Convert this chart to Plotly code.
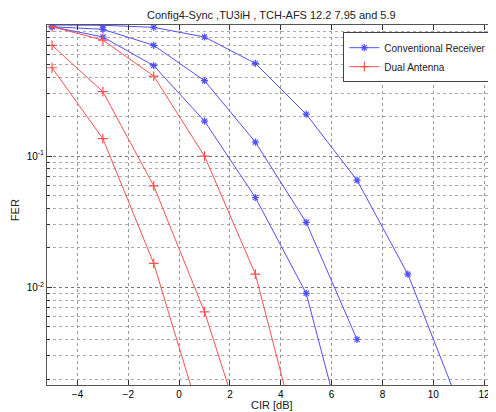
import plotly.graph_objects as go
import numpy as np

# Data (CIR in dB, FER)
cir = [-5, -3, -1, 1, 3, 5, 7, 9, 11]
conv_a = [1.0, 0.995, 0.96, 0.81, 0.51, 0.209, 0.0656, 0.0126, 0.0013]
conv_b = [0.97, 0.927, 0.70, 0.376, 0.128, 0.0313, 0.0040]
conv_c = [0.97, 0.81, 0.49, 0.185, 0.0484, 0.0090, 0.0003]
dual_a = [0.97, 0.768, 0.408, 0.1, 0.0126, 0.0004]
dual_b = [0.70, 0.31, 0.0593, 0.0065, 0.0004]
dual_c = [0.472, 0.136, 0.0152, 0.0008]

x_ticks = [-4, -2, 0, 2, 4, 6, 8, 10, 12]
y_ticks = [0.01, 0.1]
y_ticktext = ["10<sup>-2</sup>", "10<sup>-1</sup>"]

blue = "rgb(80,80,255)"
red = "rgb(255,80,80)"

fig = go.Figure()
for i, ys in enumerate([conv_a, conv_b, conv_c]):
    fig.add_trace(go.Scatter(
        x=cir[:len(ys)], y=ys, mode="lines+markers", name="Conventional Receiver",
        line=dict(color=blue, width=1),
        marker=dict(symbol="asterisk-open", size=6, color=blue, line=dict(color=blue, width=1.2)),
        showlegend=(i == 0), legendgroup="conv"))
for i, ys in enumerate([dual_a, dual_b, dual_c]):
    fig.add_trace(go.Scatter(
        x=cir[:len(ys)], y=ys, mode="lines+markers", name="Dual Antenna",
        line=dict(color=red, width=1),
        marker=dict(symbol="cross-thin-open", size=7, color=red, line=dict(color=red, width=1.2)),
        showlegend=(i == 0), legendgroup="dual"))

minor_vals = [m * 10.0 ** e for e in (-3, -2, -1) for m in range(2, 10)]

fig.update_layout(
    width=488, height=404,
    margin=dict(l=39, r=0, t=17, b=27),
    paper_bgcolor="white", plot_bgcolor="white",
    font=dict(family="Liberation Sans, Arial, sans-serif", size=10, color="black"),
    legend=dict(x=0.66, y=0.98, xanchor="left", yanchor="top",
                bgcolor="white", bordercolor="#444", borderwidth=1,
                font=dict(size=10, color="#222"), tracegroupgap=0,
                itemwidth=30),
    xaxis=dict(range=[-5.2, 12.47], tickvals=x_ticks, ticks="inside", ticklen=5,
               tickcolor="#333", showline=True, linecolor="#555", linewidth=1, mirror="ticks",
               showgrid=True, gridcolor="#999", griddash="dot", gridwidth=1,
               zeroline=False),
    yaxis=dict(type="log", range=[np.log10(0.0018), 0], tickvals=y_ticks, ticktext=y_ticktext,
               ticks="inside", ticklen=5, tickcolor="#333",
               showline=True, linecolor="#555", linewidth=1, mirror="ticks",
               showgrid=True, gridcolor="#777", griddash="dot", gridwidth=1,
               zeroline=False,
               minor=dict(tickvals=minor_vals, ticks="inside", ticklen=3, tickcolor="#333",
                          showgrid=True, gridcolor="#aaa", griddash="dot", gridwidth=1)),
    annotations=[
        dict(text="Config4-Sync ,TU3iH , TCH-AFS 12.2 7.95 and 5.9", xref="paper", yref="paper",
             x=0.501, y=1.028, xanchor="center", yanchor="middle", showarrow=False,
             font=dict(size=11, color="#222")),
        dict(text="CIR [dB]", xref="paper", yref="paper", x=0.5, y=-0.056,
             xanchor="center", yanchor="middle", showarrow=False,
             font=dict(size=11, color="#222")),
        dict(text="FER", xref="paper", yref="paper", x=-0.071, y=0.486, textangle=-90,
             xanchor="center", yanchor="middle", showarrow=False,
             font=dict(size=11, color="#222")),
    ],
)

fig.write_html("out.html")
